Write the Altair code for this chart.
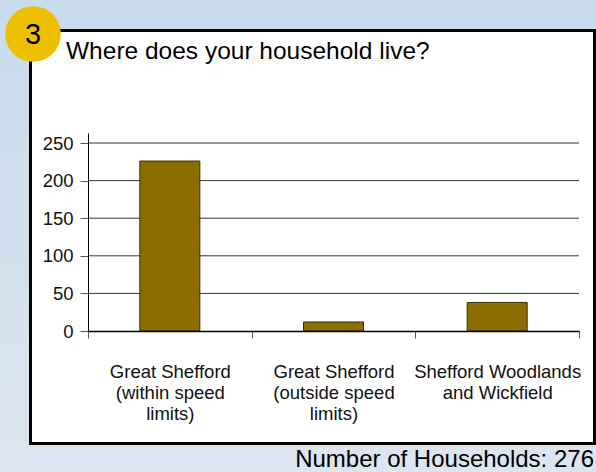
import altair as alt
import pandas as pd

categories = [
    "Great Shefford|(within speed|limits)",
    "Great Shefford|(outside speed|limits)",
    "Shefford Woodlands|and Wickfield",
]
households = [226, 12, 38]
y_ticks = [0, 50, 100, 150, 200, 250]
question_number = "3"
title_text = "Where does your household live?"
footer_text = "Number of Households: 276"

df = pd.DataFrame({"place": categories, "count": households})
grid_df = pd.DataFrame({"count": y_ticks[1:]})
one = pd.DataFrame({"k": [0]})

FONT = "Liberation Sans"
W, H = 491, 198

bg = alt.Chart(one).mark_rect(
    color=alt.LinearGradient(
        gradient="linear", x1=0, y1=0, x2=0, y2=1,
        stops=[alt.GradientStop(color="#c7dbec", offset=0),
               alt.GradientStop(color="#dce5f0", offset=1)]),
).encode(x=alt.value(-88), x2=alt.value(508), y=alt.value(-133), y2=alt.value(339))

box = alt.Chart(one).mark_rect(
    fill="white", stroke="black", strokeWidth=3
).encode(x=alt.value(-57.5), x2=alt.value(506.5), y=alt.value(-102.5), y2=alt.value(310.5))

circle = alt.Chart(one).mark_point(
    shape="circle", filled=True, color="#eebf00", opacity=1, size=3100
).encode(x=alt.value(-55), y=alt.value(-99))

num = alt.Chart(one).mark_text(
    text=question_number, font=FONT, fontSize=29, color="black", baseline="middle", align="center"
).encode(x=alt.value(-55), y=alt.value(-98))

title = alt.Chart(one).mark_text(
    text=title_text, font=FONT, fontSize=24.5, color="black", align="left", baseline="alphabetic"
).encode(x=alt.value(-22), y=alt.value(-74))

footer = alt.Chart(one).mark_text(
    text=footer_text, font=FONT, fontSize=24, color="black", align="right", baseline="alphabetic"
).encode(x=alt.value(506), y=alt.value(333.5))

y_scale = alt.Scale(domain=[0, 263.3], nice=False)
y_axis = alt.Axis(values=y_ticks, labelFont=FONT, labelFontSize=18.5,
                  labelColor="#111", labelPadding=7, tickSize=8,
                  labelOverlap=False, labelFlush=False,
                  tickColor="#555", domainColor="black", domainWidth=1,
                  grid=False, zindex=1)

grid = alt.Chart(grid_df).mark_rule(color="#333", strokeWidth=1).encode(
    y=alt.Y("count:Q", scale=y_scale, title=None, axis=y_axis),
    x=alt.value(0), x2=alt.value(W)
)

bars = alt.Chart(df).mark_bar(
    color="#8b6d00", stroke="#3a2f00", strokeWidth=1, width=60
).encode(
    x=alt.X("place:N", sort=None, title=None,
            scale=alt.Scale(paddingInner=0, paddingOuter=0),
            axis=alt.Axis(labelExpr="split(datum.label, '|')", labelAngle=0,
                          labelFont=FONT, labelFontSize=18.5, labelColor="#111",
                          labelLineHeight=21, labelPadding=24, labelOverlap=False,
                          tickBand="extent", tickSize=7, tickColor="#555",
                          domainColor="black", domainWidth=1.5, grid=False, zindex=1)),
    y=alt.Y("count:Q", title=None, scale=y_scale, axis=y_axis),
)

chart = alt.layer(bg, box, circle, num, title, footer, grid, bars).properties(
    width=W, height=H,
    padding={"left": 88, "top": 133, "right": 17, "bottom": 141},
    autosize=alt.AutoSizeParams(type="none"),
).configure_view(stroke=None).configure(background="#d0dfed")

chart.save("out.html", embed_options={"renderer": "svg", "actions": False})
